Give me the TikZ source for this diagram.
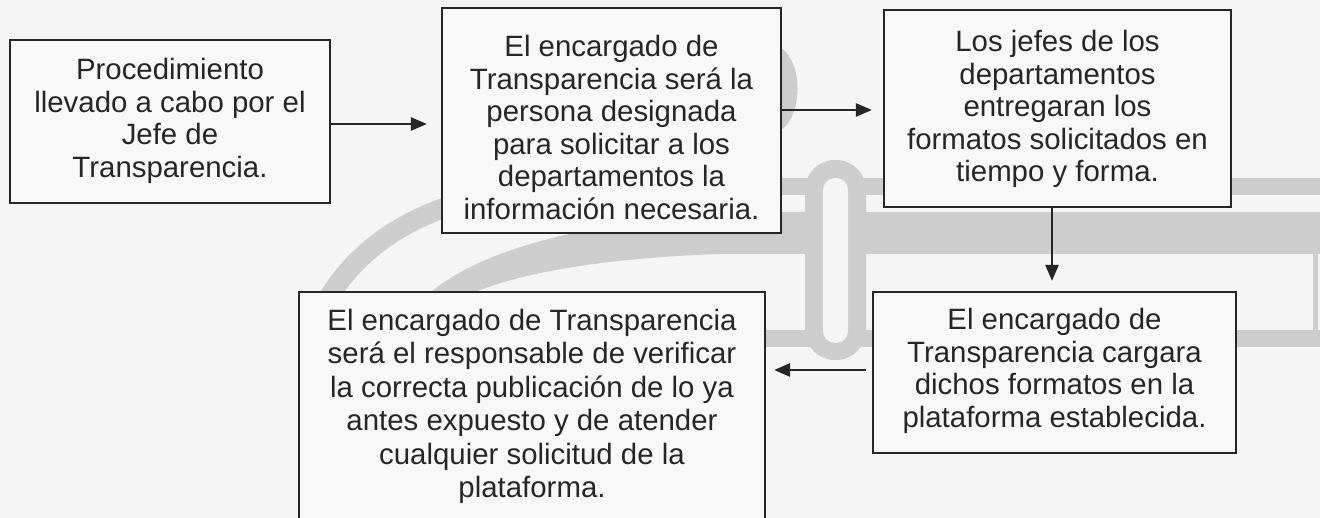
\documentclass[tikz,border=0pt]{standalone}
\usepackage{fontspec}
\setmainfont{Liberation Sans}
\usetikzlibrary{arrows.meta}
\definecolor{bg}{HTML}{F5F5F5}
\definecolor{boxfill}{HTML}{F8F8F8}
\definecolor{wm}{HTML}{CDCDCD}
\definecolor{ink}{HTML}{262626}
\tikzset{
  flowbox/.style={draw=ink, line width=2.2pt, fill=boxfill, inner sep=0pt},
  txt/.style={align=center, text=ink, inner sep=0pt, anchor=base,
    font=\fontsize{29.4}{32.5}\selectfont},
  arr/.style={draw=ink, line width=2.6pt, -{Triangle[length=16pt,width=13pt]}},
  wmfill/.style={fill=wm, draw=none}
}
\begin{document}
\begin{tikzpicture}[x=1pt,y=-1pt]
\useasboundingbox (0,0) rectangle (1320,518);
\clip (0,0) rectangle (1320,518);
\fill[bg] (0,0) rectangle (1320,518);
% watermark
\draw[wm, line width=20pt] (326,302) .. controls (355,252) and (400,222) .. (455,204);
\fill[wmfill] (420,302) .. controls (460,262) and (540,228) .. (720,212) -- (806,212)
  -- (806,254) -- (720,254) .. controls (600,258) and (500,275) .. (455,302) -- cycle;
\fill[wmfill] (781,178) rectangle (1320,195);
\fill[wmfill] (720,212) rectangle (1320,254);
\fill[wmfill] (765,330) rectangle (1320,347);
\fill[wmfill] (1313,254) rectangle (1318,330);
\fill[wmfill, rounded corners=30pt] (805,160) rectangle (866,360);
\fill[bg, rounded corners=12pt] (823,178) rectangle (848,343);
\fill[wmfill] (781,48) .. controls (803,62) and (803,115) .. (781,130) -- cycle;
% boxes
\node[flowbox, minimum width=320pt, minimum height=163pt] (b1) at (170,121.5) {};
\node[flowbox, minimum width=339pt, minimum height=225pt] (b2) at (611.5,120.5) {};
\node[flowbox, minimum width=347pt, minimum height=197pt] (b3) at (1057.5,108.5) {};
\node[flowbox, minimum width=363pt, minimum height=161pt] (b4) at (1054.5,372.5) {};
\node[flowbox, minimum width=466pt, minimum height=238pt] (b5) at (532,411) {};
% texts (anchor = baseline of the last line)
\node[txt] (t1) at (170,177.5) {Procedimiento\\llevado a cabo por el\\Jefe de\\Transparencia.};
\node[txt] (t2) at (611.5,219.5) {El encargado de\\Transparencia será la\\persona designada\\para solicitar a los\\departamentos la\\información necesaria.};
\node[txt] (t3) at (1057.5,182) {Los jefes de los\\departamentos\\entregaran los\\formatos solicitados en\\tiempo y forma.};
\node[txt] (t4) at (1054.5,427.5) {El encargado de\\Transparencia cargara\\dichos formatos en la\\plataforma establecida.};
\node[txt, font=\fontsize{29.4}{33.5}\selectfont] (t5) at (532,497.5) {El encargado de Transparencia\\será el responsable de verificar\\la correcta publicación de lo ya\\antes expuesto y de atender\\cualquier solicitud de la\\plataforma.};
% connectors
\coordinate (y1) at (0,124);
\coordinate (y2) at (0,110);
\coordinate (x3) at (1052,0);
\coordinate (y4) at (0,370);
\draw[arr, shorten >=14pt] (b1.east |- y1) -- (b2.west |- y1);
\draw[arr, shorten >=11pt] (b2.east |- y2) -- (b3.west |- y2);
\draw[arr, shorten >=10pt] (b3.south -| x3) -- (b4.north -| x3);
\draw[arr, shorten <=6pt, shorten >=8pt] (b4.west |- y4) -- (b5.east |- y4);
\end{tikzpicture}
\end{document}
